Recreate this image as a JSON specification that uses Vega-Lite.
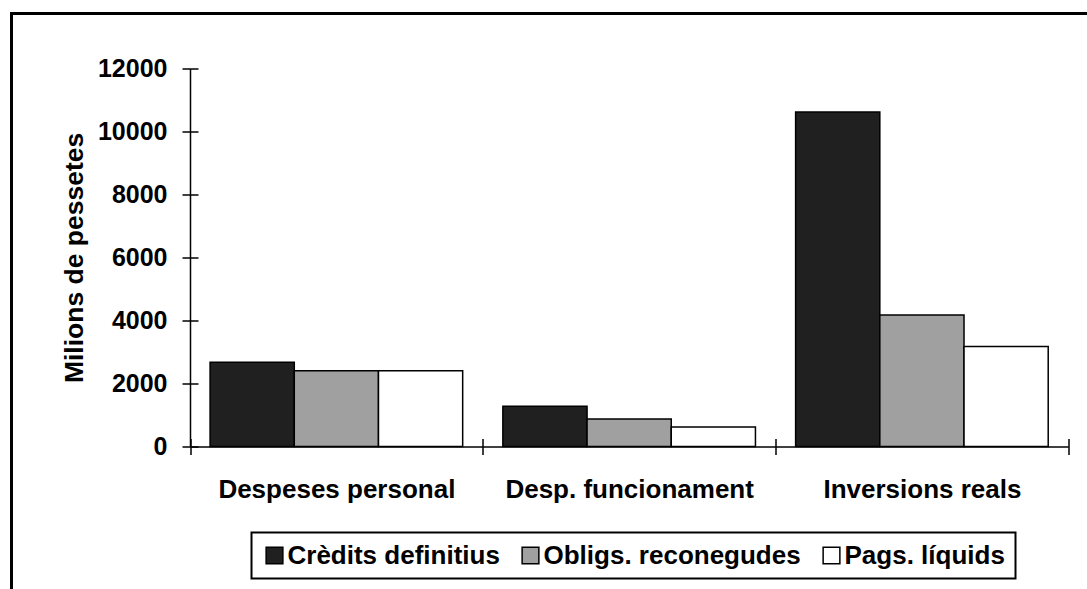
{
  "$schema": "https://vega.github.io/schema/vega-lite/v6.json",
  "width": 1100,
  "height": 600,
  "autosize": {"type": "none"},
  "padding": {"left": 11.5, "top": 13.5, "right": 0, "bottom": 0},
  "background": "white",
  "config": {
    "view": {"stroke": "black", "strokeWidth": 3},
    "font": "Liberation Sans",
    "legend": {"strokeWidth": 2}
  },
  "data": {
    "values": [
      {"categoria": "Despeses personal", "serie": "Crèdits definitius", "valor": 2670},
      {"categoria": "Despeses personal", "serie": "Obligs. reconegudes", "valor": 2400},
      {"categoria": "Despeses personal", "serie": "Pags. líquids", "valor": 2400},
      {"categoria": "Desp. funcionament", "serie": "Crèdits definitius", "valor": 1280},
      {"categoria": "Desp. funcionament", "serie": "Obligs. reconegudes", "valor": 870},
      {"categoria": "Desp. funcionament", "serie": "Pags. líquids", "valor": 620},
      {"categoria": "Inversions reals", "serie": "Crèdits definitius", "valor": 10610},
      {"categoria": "Inversions reals", "serie": "Obligs. reconegudes", "valor": 4175},
      {"categoria": "Inversions reals", "serie": "Pags. líquids", "valor": 3170}
    ]
  },
  "layer": [
    {
      "mark": {"type": "bar", "stroke": "black", "strokeWidth": 1.5},
      "encoding": {
        "x": {
          "field": "categoria",
          "type": "nominal",
          "sort": ["Despeses personal", "Desp. funcionament", "Inversions reals"],
          "scale": {"range": [178.5, 1056.8], "paddingInner": 0, "paddingOuter": 0},
          "axis": {
            "orient": "bottom",
            "offset": -167,
            "title": null,
            "tickBand": "extent",
            "labelAngle": 0,
            "labelFont": "Liberation Sans",
            "labelFontSize": 26,
            "labelFontWeight": "bold",
            "labelColor": "black",
            "labelPadding": 22,
            "labelLimit": 400,
            "tickSize": 8,
            "tickColor": "black",
            "tickWidth": 1.5,
            "domainColor": "black",
            "domainWidth": 1.5,
            "grid": false
          }
        },
        "xOffset": {
          "field": "serie",
          "type": "nominal",
          "sort": ["Crèdits definitius", "Obligs. reconegudes", "Pags. líquids"],
          "scale": {"paddingInner": 0, "paddingOuter": 0.2386}
        },
        "y": {
          "field": "valor",
          "type": "quantitative",
          "scale": {"domain": [0, 12000], "range": [433, 54.8], "nice": false, "zero": true},
          "axis": {
            "orient": "left",
            "offset": -178.5,
            "values": [0, 2000, 4000, 6000, 8000, 10000, 12000],
            "format": "d",
            "title": "Milions de pessetes",
            "titleFont": "Liberation Sans",
            "titleFontSize": 26.5,
            "titleFontWeight": "bold",
            "titleColor": "black",
            "titlePadding": 9,
            "labelFont": "Liberation Sans",
            "labelFontSize": 25,
            "labelFontWeight": "bold",
            "labelColor": "black",
            "labelPadding": 15,
            "tickSize": 8,
            "tickColor": "black",
            "tickWidth": 1.5,
            "domainColor": "black",
            "domainWidth": 1.5,
            "grid": false
          }
        },
        "color": {
          "field": "serie",
          "type": "nominal",
          "sort": ["Crèdits definitius", "Obligs. reconegudes", "Pags. líquids"],
          "scale": {
            "domain": ["Crèdits definitius", "Obligs. reconegudes", "Pags. líquids"],
            "range": ["#202020", "#a0a0a0", "#ffffff"]
          },
          "legend": {
            "orient": "none",
            "legendX": 240,
            "legendY": 519,
            "direction": "horizontal",
            "title": null,
            "symbolType": "square",
            "symbolSize": 280,
            "symbolStrokeColor": "black",
            "symbolStrokeWidth": 1.5,
            "symbolOpacity": 1,
            "labelFont": "Liberation Sans",
            "labelFontSize": 26,
            "labelFontWeight": "bold",
            "labelColor": "black",
            "labelLimit": 400,
            "labelOffset": 0,
            "columnPadding": 17,
            "padding": 10,
            "strokeColor": "black",
            "fillColor": "white"
          }
        }
      }
    },
    {
      "mark": {"type": "bar", "opacity": 0},
      "encoding": {
        "x": {
          "field": "categoria",
          "type": "nominal",
          "sort": ["Despeses personal", "Desp. funcionament", "Inversions reals"],
          "scale": {"range": [178.5, 1056.8], "paddingInner": 0, "paddingOuter": 0},
          "axis": {
            "orient": "top",
            "offset": -433,
            "title": null,
            "tickBand": "extent",
            "labels": false,
            "domain": false,
            "tickSize": 8,
            "tickColor": "black",
            "tickWidth": 1.5,
            "grid": false
          }
        },
        "xOffset": {
          "field": "serie",
          "type": "nominal",
          "sort": ["Crèdits definitius", "Obligs. reconegudes", "Pags. líquids"],
          "scale": {"paddingInner": 0, "paddingOuter": 0.2386}
        },
        "y": {
          "field": "valor",
          "type": "quantitative",
          "scale": {"domain": [0, 12000], "range": [433, 54.8], "nice": false, "zero": true},
          "axis": {
            "orient": "right",
            "offset": -921.5,
            "values": [0, 2000, 4000, 6000, 8000, 10000, 12000],
            "title": null,
            "labels": false,
            "domain": false,
            "tickSize": 8,
            "tickColor": "black",
            "tickWidth": 1.5,
            "grid": false
          }
        }
      }
    }
  ],
  "resolve": {"axis": {"x": "independent", "y": "independent"}}
}
